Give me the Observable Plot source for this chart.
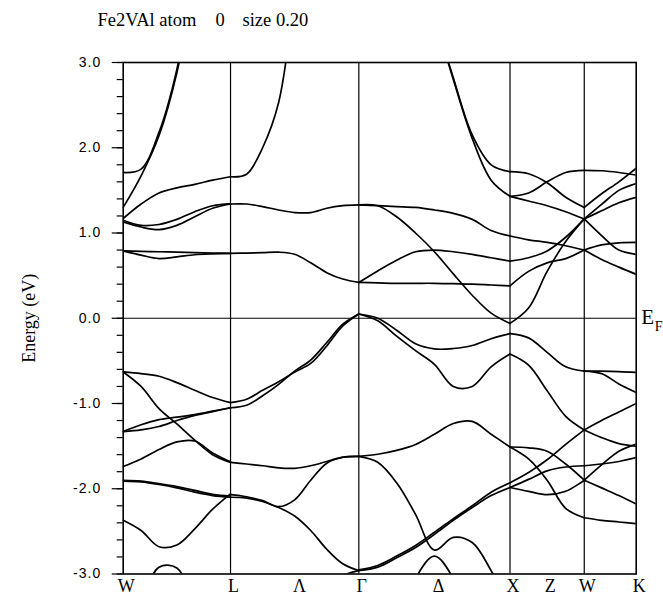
<!DOCTYPE html>
<html>
<head>
<meta charset="utf-8">
<script src="https://cdn.jsdelivr.net/npm/d3@7"></script>
<script src="https://cdn.jsdelivr.net/npm/@observablehq/plot@0.6"></script>
<style>
  html, body { margin: 0; padding: 0; background: #fff; }
  #chart svg { display: block; }
  g[aria-label="y-axis tick label"] text { letter-spacing: 1px; }
</style>
</head>
<body>
<div id="chart"></div>
<script>
// k path W – L – Γ – X – W – K (units of 2π/a)
const symmetryK = [0, 0.717, 1.574, 2.584, 3.080, 3.427];
const kLabels = ["W", "L", "Λ", "Γ", "Δ", "X", "Z", "W", "K"];
const kLabelPos = [0, 0.717, 1.158, 1.574, 2.086, 2.584, 2.832, 3.080, 3.427];
const energyTicks = [-3, -2, -1, 0, 1, 2, 3];
const minorTicks = d3.range(-15, 16).map(i => i / 5);

// Band energies (eV) at evenly spaced k within each segment; null = outside the window
const bandsWL = [
  [1.71, 1.75, 2.18, 2.92, 4.1, 5.5, 7.0],
  [1.30, 1.67, 2.14, 2.88, 4.0, 5.4, 6.9],
  [1.17, 1.34, 1.47, 1.53, 1.57, 1.62, 1.66],
  [1.13, 1.07, 1.04, 1.09, 1.19, 1.29, 1.34],
  [1.15, 1.09, 1.10, 1.16, 1.25, 1.32, 1.345],
  [0.79, 0.785, 0.78, 0.775, 0.77, 0.765, 0.76],
  [0.79, 0.74, 0.70, 0.72, 0.745, 0.755, 0.76],
  [-0.63, -0.65, -0.68, -0.755, -0.845, -0.93, -0.99],
  [-0.63, -0.80, -1.06, -1.24, -1.43, -1.60, -1.69],
  [-1.33, -1.25, -1.19, -1.16, -1.13, -1.09, -1.05],
  [-1.33, -1.31, -1.27, -1.20, -1.14, -1.095, -1.05],
  [-1.74, -1.65, -1.54, -1.45, -1.44, -1.58, -1.685],
  [-1.91, -1.92, -1.95, -1.99, -2.04, -2.08, -2.10],
  [-1.90, -1.91, -1.94, -1.975, -2.02, -2.065, -2.085],
  [-2.37, -2.49, -2.68, -2.66, -2.47, -2.24, -2.06],
  [-3.8, -3.34, -2.92, -2.93, -3.39, -3.9, -4.4]
];

const bandsLG = [
  [1.66, 1.69, 2.00, 2.53, 3.8, 5.2, 6.6, 8.0, 9.4],
  [1.34, 1.34, 1.31, 1.27, 1.24, 1.24, 1.29, 1.32, 1.33],
  [0.76, 0.765, 0.77, 0.775, 0.75, 0.65, 0.535, 0.46, 0.42],
  [-0.99, -0.95, -0.845, -0.745, -0.63, -0.53, -0.325, -0.09, 0.05],
  [-1.05, -1.02, -0.91, -0.775, -0.62, -0.49, -0.285, -0.07, 0.05],
  [-1.69, -1.71, -1.73, -1.755, -1.76, -1.73, -1.68, -1.63, -1.62],
  [-2.07, -2.095, -2.14, -2.21, -2.13, -1.90, -1.70, -1.63, -1.62],
  [-2.10, -2.11, -2.15, -2.22, -2.32, -2.49, -2.71, -2.88, -2.96],
  [-4.2, -4.0, -3.8, -3.6, -3.45, -3.3, -3.17, -3.02, -2.96]
];

const bandsGX = [
  [null, null, null, null, 3.55, 2.82, 2.15, 1.80, 1.72],
  [null, null, null, null, 3.55, 2.80, 2.11, 1.62, 1.43],
  [1.33, 1.32, 1.31, 1.30, 1.27, 1.23, 1.16, 1.03, 0.965],
  [1.33, 1.32, 1.19, 1.00, 0.78, 0.52, 0.27, 0.06, -0.06],
  [0.42, 0.555, 0.68, 0.78, 0.80, 0.78, 0.75, 0.71, 0.67],
  [0.42, 0.415, 0.41, 0.41, 0.41, 0.405, 0.40, 0.39, 0.38],
  [0.05, 0.0, -0.14, -0.30, -0.36, -0.355, -0.32, -0.24, -0.18],
  [0.05, -0.03, -0.21, -0.38, -0.54, -0.80, -0.80, -0.57, -0.42],
  [-1.62, -1.595, -1.55, -1.48, -1.36, -1.235, -1.21, -1.36, -1.51],
  [-1.62, -1.69, -1.93, -2.30, -2.72, -2.57, -2.63, -2.96, -3.4],
  [-2.95, -2.90, -2.79, -2.665, -2.51, -2.35, -2.20, -2.04, -1.93],
  [-2.96, -2.92, -2.81, -2.69, -2.535, -2.37, -2.22, -2.08, -1.985],
  [null, null, -3.6, -3.05, -2.79, -3.05, -3.6, null, null]
];

const bandsXW = [
  [1.72, 1.695, 1.59, 1.42, 1.30],
  [1.43, 1.47, 1.60, 1.71, 1.735],
  [1.43, 1.375, 1.32, 1.25, 1.165],
  [-0.06, 0.12, 0.55, 0.90, 1.165],
  [0.965, 0.92, 0.89, 0.85, 0.80],
  [0.67, 0.71, 0.79, 0.95, 1.165],
  [0.38, 0.55, 0.65, 0.70, 0.80],
  [-0.18, -0.23, -0.40, -0.57, -0.62],
  [-0.42, -0.55, -0.85, -1.15, -1.31],
  [-1.51, -1.52, -1.56, -1.71, -1.90],
  [-1.51, -1.65, -1.90, -2.23, -2.34],
  [-1.93, -1.81, -1.66, -1.48, -1.31],
  [-1.985, -1.89, -1.79, -1.745, -1.73],
  [-1.985, -2.03, -2.07, -2.03, -1.90]
];

const bandsWK = [
  [1.30, 1.46, 1.60, 1.76],
  [1.735, 1.73, 1.71, 1.68],
  [1.165, 1.335, 1.50, 1.58],
  [1.165, 1.26, 1.355, 1.42],
  [1.165, 0.97, 0.80, 0.75],
  [0.80, 0.86, 0.885, 0.89],
  [0.80, 0.69, 0.60, 0.515],
  [-0.62, -0.62, -0.625, -0.635],
  [-0.62, -0.65, -0.77, -0.87],
  [-1.31, -1.20, -1.10, -1.00],
  [-1.31, -1.40, -1.47, -1.50],
  [-1.73, -1.71, -1.68, -1.635],
  [-1.90, -1.72, -1.56, -1.475],
  [-1.90, -1.99, -2.08, -2.18],
  [-2.34, -2.37, -2.39, -2.41]
];

const segments = [bandsWL, bandsLG, bandsGX, bandsXW, bandsWK];

// Flatten to {k, E, id} rows, one id per band piece
const points = [];
segments.forEach((bands, s) => {
  const k0 = symmetryK[s], k1 = symmetryK[s + 1];
  bands.forEach((band, b) => {
    const n = band.length - 1;
    band.forEach((E, j) => {
      points.push({k: k0 + (k1 - k0) * j / n, E: E == null ? NaN : E, id: `${s}-${b}`});
    });
  });
});

const serif = "'Liberation Serif', 'Times New Roman', serif";
const sans = "'Liberation Sans', Arial, sans-serif";

const titleText = (text, dx) => Plot.text([text], {
  frameAnchor: "top-left", textAnchor: "start", lineAnchor: "bottom",
  dx, dy: -37, fontSize: 18.5, fontFamily: serif
});

const chart = Plot.plot({
  width: 663,
  height: 594,
  marginTop: 62,
  marginBottom: 20.5,
  marginLeft: 122.7,
  marginRight: 27.3,
  x: {domain: [0, 3.427], axis: null},
  y: {domain: [-3, 3], axis: null, label: null},
  style: {background: "white", color: "black"},
  marks: [
    Plot.ruleY([0], {stroke: "black", strokeWidth: 1.2}),
    Plot.ruleX(symmetryK.slice(1, 5), {stroke: "black", strokeWidth: 1.2}),
    Plot.line(points, {
      x: "k", y: "E", z: "id", curve: "catmull-rom",
      stroke: "black", strokeWidth: 1.7, clip: true
    }),
    Plot.frame({stroke: "black", strokeWidth: 1.6}),
    Plot.axisY(minorTicks, {anchor: "left", tickSize: 6, tickFormat: () => "", label: null, strokeWidth: 1.2}),
    Plot.axisY(energyTicks, {
      anchor: "left", tickSize: 11, tickPadding: 11, label: null, strokeWidth: 1.2,
      tickFormat: d => d.toFixed(1), fontSize: 14, fontFamily: sans
    }),
    Plot.text(kLabels, {
      x: (d, i) => kLabelPos[i], frameAnchor: "bottom", lineAnchor: "bottom",
      dx: 3, dy: 17.5, fontSize: 18, fontFamily: serif
    }),
    Plot.text(["Energy (eV)"], {
      frameAnchor: "left", textAnchor: "middle", lineAnchor: "middle",
      dx: -94, rotate: -90, fontSize: 18, fontFamily: serif
    }),
    Plot.text(["E"], {
      frameAnchor: "right", textAnchor: "start", lineAnchor: "bottom",
      dx: 5, dy: 5.5, fontSize: 21, fontFamily: serif
    }),
    Plot.text(["F"], {
      frameAnchor: "right", textAnchor: "start", lineAnchor: "bottom",
      dx: 18.5, dy: 12.5, fontSize: 14, fontFamily: serif
    }),
    titleText("Fe2VAl atom", -25.7),
    titleText("0", 92.3),
    titleText("size 0.20", 119.3)
  ]
});

document.getElementById("chart").append(chart);
</script>
</body>
</html>
